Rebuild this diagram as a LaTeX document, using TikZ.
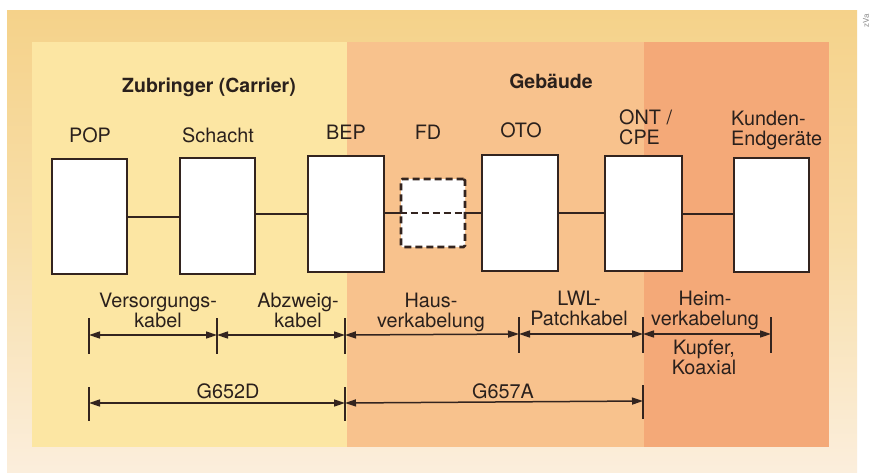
\documentclass[tikz,border=0pt]{standalone}
\usepackage{fontspec}
\setmainfont{TeX Gyre Heros}
\usetikzlibrary{arrows.meta}
\definecolor{outertop}{HTML}{F5D28A}
\definecolor{outermid}{HTML}{F8DFAA}
\definecolor{outerbot}{HTML}{FBEEDC}
\definecolor{yellowin}{HTML}{FCE6A3}
\definecolor{orangein}{HTML}{F8C28D}
\definecolor{darkin}{HTML}{F4A978}
\definecolor{linec}{HTML}{33241F}
\definecolor{textc}{HTML}{2A201C}
\definecolor{markc}{HTML}{8A8A8A}
\tikzset{
  lbl/.style={anchor=base, text=textc, inner sep=0pt, align=center,
    font=\fontsize{19.8}{19.5}\selectfont},
  lbll/.style={lbl, align=left, anchor=base west},
  ttl/.style={lbl, font=\fontsize{19.5}{20}\selectfont\bfseries},
  unit/.style={draw=linec, line width=2.8pt, fill=white, inner sep=0pt},
  dunit/.style={unit, dash pattern=on 7pt off 4pt, rounded corners=1.5pt},
  wire/.style={draw=linec, line width=2pt},
  dwire/.style={wire, dash pattern=on 7pt off 4pt},
  dim/.style={draw=linec, line width=1.5pt, {Triangle[length=11pt,width=7pt]}-{Triangle[length=11pt,width=7pt]}},
  tick/.style={draw=linec, line width=1.6pt}
}
\begin{document}
\begin{tikzpicture}[x=1pt,y=-1pt]
\useasboundingbox (0,0) rectangle (872,472);
% backgrounds
\fill[white] (0,0) rectangle (872,472);
\shade[top color=outertop, bottom color=outerbot, middle color=outermid] (7,10) rectangle (857,472);
\fill[yellowin] (32,42) rectangle (347,447);
\fill[orangein] (347,42) rectangle (644,447);
\fill[darkin] (644,42) rectangle (829,447);
\node[rotate=90, text=markc, font=\fontsize{8}{8}\selectfont, inner sep=0pt] (mark) at (866,21) {zVa};
% titles
\node[ttl] (tzub) at (209,92) {Zubringer (Carrier)};
\node[ttl] (tgeb) at (551,88) {Gebäude};
% units
\node[unit, minimum width=75pt, minimum height=115pt] (pop) at (89.5,216.5) {};
\node[unit, minimum width=75pt, minimum height=116pt] (sch) at (217.5,216) {};
\node[unit, minimum width=76pt, minimum height=116pt] (bep) at (346,214) {};
\node[dunit, minimum width=64pt, minimum height=68pt] (fd) at (433,213) {};
\node[unit, minimum width=76pt, minimum height=116pt] (oto) at (520,213) {};
\node[unit, minimum width=77pt, minimum height=115pt] (ont) at (643.5,213.5) {};
\node[unit, minimum width=75pt, minimum height=114pt] (kun) at (771.5,215) {};
% wires
\draw[wire] (pop.east) -- (pop.east -| sch.west);
\draw[wire] (sch.east |- bep.west) -- (bep.west);
\draw[wire] (bep.east |- fd.west) -- (fd.west);
\draw[dwire] (fd.west) -- (fd.east);
\draw[wire] (fd.east) -- (oto.west);
\draw[wire] (oto.east) -- (oto.east -| ont.west);
\draw[wire] (ont.east) -- (ont.east -| kun.west);
% unit labels
\node[lbl] (lpop) at (90,142) {POP};
\node[lbl] (lsch) at (218,142) {Schacht};
\node[lbl] (lbep) at (346,139) {BEP};
\node[lbl] (lfd) at (428,139) {FD};
\node[lbl] (loto) at (521,137) {OTO};
\node[lbll] (lont) at (619,144) {ONT /\\CPE};
\node[lbll] (lkun) at (731,145) {Kunden-\\Endgeräte};
% dimension row 1
\coordinate (a1) at (89,335);
\coordinate (a2) at (217,335);
\coordinate (a3) at (345,335);
\coordinate (a4) at (519,334);
\coordinate (a5) at (643,334);
\coordinate (a6) at (771,334);
\foreach \c in {a1,a2,a3,a4,a5,a6}
  \draw[tick] ([yshift=17pt]\c) -- ([yshift=-19pt]\c);
\draw[dim] (a1) -- (a2);
\draw[dim] (a2) -- (a3);
\draw[dim] (a3) -- (a4);
\draw[dim] (a4) -- (a5);
\draw[dim] (a5) -- (a6);
\node[lbl] (lvers) at (158,327) {Versorgungs-\\kabel};
\node[lbl] (labzw) at (298,327) {Abzweig-\\kabel};
\node[lbl] (lhaus) at (431,327) {Haus-\\verkabelung};
\node[lbl] (llwl) at (579,325) {LWL-\\Patchkabel};
\node[lbl] (lheim) at (705,325) {Heim-\\verkabelung};
\node[lbl] (lkupf) at (704,374) {Kupfer,\\Koaxial};
% dimension row 2
\coordinate (b1) at (89,403);
\coordinate (b2) at (345,403);
\coordinate (b3) at (643,401);
\foreach \c in {b1,b2,b3}
  \draw[tick] ([yshift=16pt]\c) -- ([yshift=-18pt]\c);
\draw[dim] (b1) -- (b2);
\draw[dim] (b2) -- (b3);
\node[lbl] (lg652) at (228,398) {G652D};
\node[lbl] (lg657) at (503,398) {G657A};
\end{tikzpicture}
\end{document}
